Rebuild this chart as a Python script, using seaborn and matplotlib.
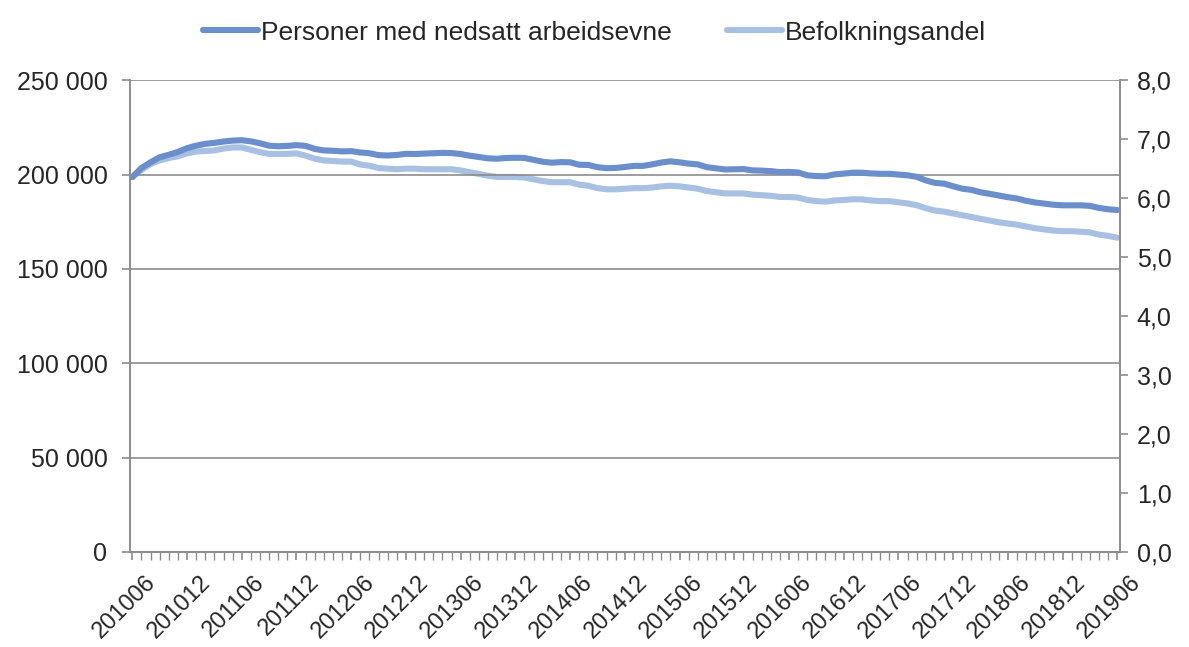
import matplotlib
matplotlib.use('Agg')
import matplotlib.pyplot as plt
import matplotlib.transforms as mtransforms
from matplotlib.ticker import FuncFormatter, MultipleLocator
import pandas as pd
import seaborn as sns

# monthly periods 201006 - 201906
periods = pd.period_range('2010-06', '2019-06', freq='M').strftime('%Y%m').tolist()

# Personer med nedsatt arbeidsevne (persons)
personer = [
    198600, 203500, 206500, 209200, 210500, 212000, 214000,
    215300, 216300, 216800, 217500, 218000, 218200, 217600, 216600, 215300, 215000, 215200, 215600,
    215200, 213600, 212800, 212600, 212300, 212400, 211700, 211300, 210300, 210100, 210400, 211000,
    210900, 211100, 211300, 211500, 211400, 210900, 210000, 209300, 208600, 208400, 208800, 208900,
    208800, 207800, 206800, 206300, 206600, 206500, 205200, 205100, 203900, 203400, 203500, 204000,
    204600, 204600, 205400, 206400, 207000, 206500, 205800, 205400, 203900, 203300, 202700, 202800,
    202900, 202200, 202100, 201800, 201300, 201400, 201100, 199600, 199200, 199100, 200100, 200500,
    201000, 201000, 200600, 200400, 200400, 200000, 199600, 198800, 196900, 195600, 195200, 193800,
    192500, 191900, 190600, 189800, 188900, 188000, 187300, 186100, 185200, 184600, 184000, 183700,
    183700, 183700, 183400, 182300, 181600, 181200,
]

# Befolkningsandel (percent, right axis)
andel = [
    6.36, 6.48, 6.58, 6.64, 6.68, 6.71, 6.76,
    6.79, 6.80, 6.81, 6.84, 6.86, 6.86, 6.82, 6.78, 6.75, 6.75, 6.75, 6.76,
    6.72, 6.67, 6.64, 6.63, 6.62, 6.62, 6.57, 6.55, 6.51, 6.50, 6.49, 6.50,
    6.50, 6.49, 6.49, 6.49, 6.49, 6.47, 6.44, 6.41, 6.38, 6.36, 6.36, 6.36,
    6.35, 6.32, 6.29, 6.27, 6.27, 6.27, 6.23, 6.21, 6.17, 6.15, 6.15, 6.16,
    6.17, 6.17, 6.18, 6.20, 6.21, 6.20, 6.18, 6.16, 6.12, 6.10, 6.08, 6.08,
    6.08, 6.06, 6.05, 6.04, 6.02, 6.02, 6.01, 5.97, 5.95, 5.94, 5.96, 5.97,
    5.98, 5.98, 5.96, 5.95, 5.95, 5.93, 5.91, 5.88, 5.83, 5.79, 5.77, 5.74,
    5.71, 5.68, 5.65, 5.62, 5.59, 5.57, 5.55, 5.52, 5.49, 5.47, 5.45, 5.44,
    5.44, 5.43, 5.42, 5.38, 5.36, 5.33,
]

df = pd.DataFrame({'periode': periods, 'personer': personer, 'andel': andel})
df['i'] = range(len(df))

sns.set_style('white')
plt.rcParams['font.family'] = ['Liberation Sans', 'DejaVu Sans']

DARK = '#6a8fcb'
LIGHT = '#a8c0e2'
GREY = '#8c8c8c'
FS = 18

fig = plt.figure(figsize=(11.89, 6.47), dpi=100)
ax = fig.add_axes([0.109, 0.147, 0.833, 0.729])
ax2 = ax.twinx()

sns.lineplot(data=df, x='i', y='personer', ax=ax, color=DARK, lw=4.4,
             label='Personer med nedsatt arbeidsevne', legend=False)
sns.lineplot(data=df, x='i', y='andel', ax=ax2, color=LIGHT, lw=4.4,
             label='Befolkningsandel', legend=False)
ax.set_zorder(ax2.get_zorder() + 1)
ax.patch.set_visible(False)

ax.set_xlim(-0.3, len(df) - 0.7)
ax.set_ylim(0, 250000)
ax2.set_ylim(0, 8)

ax.yaxis.set_major_locator(MultipleLocator(50000))
ax.yaxis.set_major_formatter(FuncFormatter(lambda v, p: f'{v:,.0f}'.replace(',', ' ')))
ax2.yaxis.set_major_locator(MultipleLocator(1))
ax2.yaxis.set_major_formatter(FuncFormatter(lambda v, p: f'{v:.1f}'.replace('.', ',')))

ax.grid(axis='y', color=GREY, lw=1.2)
ax.set_axisbelow(True)

ax.set_xticks(df['i'][::6])
ax.set_xticklabels(df['periode'][::6], rotation=45, ha='right', rotation_mode='anchor')
ax.set_xticks(df['i'], minor=True)

for a in (ax, ax2):
    a.set_xlabel('')
    a.set_ylabel('')
    a.spines['top'].set_visible(False)
    for s in ('left', 'right', 'bottom'):
        a.spines[s].set_color(GREY)
        a.spines[s].set_linewidth(1.2)

ax.tick_params(axis='y', labelsize=FS, length=6, color=GREY, width=1.2, left=True, right=False, pad=10)
ax2.tick_params(axis='y', labelsize=FS, length=6, color=GREY, width=1.2, right=True, pad=6)
ax.tick_params(axis='x', which='major', labelsize=17, length=6, color=GREY, width=1.2, bottom=True, pad=5)
ax.tick_params(axis='x', which='minor', length=6, color=GREY, width=1, bottom=True)

# shift rotated labels a bit to the right, like Excel does
offset = mtransforms.ScaledTranslation(0.12, -0.04, fig.dpi_scale_trans)
for lbl in ax.get_xticklabels():
    lbl.set_transform(lbl.get_transform() + offset)

h1, l1 = ax.get_legend_handles_labels()
h2, l2 = ax2.get_legend_handles_labels()
fig.legend(h1 + h2, l1 + l2, loc='upper center', bbox_to_anchor=(0.5, 1.005), ncol=2,
           frameon=False, fontsize=19, handlelength=2.1, handletextpad=0.1,
           columnspacing=2.1)

fig.savefig('out.png', dpi=100)
